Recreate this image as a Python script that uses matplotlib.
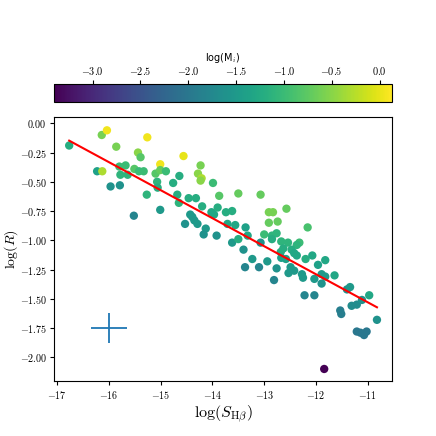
import numpy as np
import matplotlib
matplotlib.use("Agg")
import matplotlib.pyplot as plt
from matplotlib.ticker import FuncFormatter, MultipleLocator

plt.rcParams['mathtext.fontset'] = 'cm'

# data: log(S_Hbeta), log(R), log(M_i)
log_s = [-16.77, -16.14, -16.04, -15.26, -15.86, -15.44, -15.39, -15.01, -14.56, -14.23,
         -16.23, -16.13, -15.80, -15.68, -15.78, -15.64, -15.51, -15.42, -15.33, -15.10,
         -15.01, -14.90, -15.07, -15.06, -14.76, -14.64, -14.28, -14.21, -14.23, -15.97,
         -15.79, -13.99, -15.27, -14.68, -14.65, -14.46, -14.32, -14.20, -13.87, -13.50,
         -13.07, -15.52, -15.01, -14.43, -14.39, -14.35, -14.29, -14.53, -14.02, -13.97,
         -13.90, -13.74, -13.62, -14.13, -14.17, -13.92, -13.71, -13.56, -13.62, -13.36,
         -13.32, -13.40, -13.23, -13.37, -13.10, -12.94, -12.76, -12.81, -12.91, -12.83,
         -12.57, -12.91, -12.74, -12.16, -13.00, -12.85, -12.76, -12.85, -12.67, -12.54,
         -12.32, -12.37, -12.63, -12.68, -12.47, -12.42, -12.37, -12.67, -12.58, -12.20,
         -12.07, -11.96, -11.82, -12.49, -12.42, -12.53, -12.27, -12.25, -12.03, -11.89,
         -11.82, -11.89, -11.64, -12.22, -12.03, -11.40, -11.34, -11.53, -11.51, -11.31,
         -11.21, -11.11, -10.97, -10.82, -11.21, -11.14, -11.07, -11.02, -11.84, -13.50,
         -13.07]
log_r = [-0.19, -0.10, -0.06, -0.12, -0.20, -0.25, -0.29, -0.35, -0.28, -0.36,
         -0.41, -0.41, -0.37, -0.36, -0.44, -0.44, -0.39, -0.41, -0.41, -0.43,
         -0.40, -0.41, -0.50, -0.55, -0.51, -0.45, -0.43, -0.47, -0.49, -0.54,
         -0.53, -0.51, -0.61, -0.61, -0.68, -0.64, -0.64, -0.71, -0.62, -0.60,
         -0.61, -0.79, -0.74, -0.78, -0.80, -0.83, -0.86, -0.86, -0.76, -0.78,
         -0.72, -0.76, -0.75, -0.90, -0.95, -0.96, -0.86, -0.87, -1.02, -0.89,
         -0.96, -1.08, -1.16, -1.23, -1.23, -1.18, -1.24, -1.34, -0.76, -0.76,
         -0.73, -0.85, -0.84, -0.89, -0.95, -0.96, -0.94, -0.99, -1.01, -1.02,
         -1.02, -1.04, -1.07, -1.10, -1.08, -1.11, -1.13, -1.15, -1.16, -1.16,
         -1.13, -1.21, -1.17, -1.23, -1.26, -1.28, -1.29, -1.32, -1.33, -1.29,
         -1.31, -1.37, -1.30, -1.47, -1.47, -1.42, -1.40, -1.60, -1.63, -1.56,
         -1.55, -1.51, -1.47, -1.68, -1.78, -1.79, -1.81, -1.78, -2.10, -0.99,
         -1.02]
log_m = [-1.2, -0.6, 0.05, 0.05, -0.6, -0.5, -0.8, 0.05, 0.0, -0.6,
         -1.4, -0.3, -1.0, -1.0, -1.1, -1.1, -0.8, -1.0, -1.0, -0.8,
         -0.7, -1.0, -1.1, -1.2, -1.2, -1.2, -0.5, -0.3, -0.5, -1.6,
         -1.6, -1.0, -1.1, -1.2, -1.1, -1.2, -1.2, -1.2, -0.8, -0.7,
         -0.7, -1.8, -1.5, -1.5, -1.5, -1.5, -1.5, -1.6, -1.3, -1.3,
         -1.2, -1.2, -1.2, -1.5, -1.6, -1.6, -1.3, -1.3, -1.5, -1.4,
         -1.3, -1.6, -1.5, -1.8, -1.8, -1.5, -1.6, -1.8, -0.6, -0.6,
         -0.7, -0.7, -0.7, -0.9, -1.0, -1.1, -1.1, -1.2, -1.1, -1.1,
         -1.0, -1.1, -1.2, -1.2, -1.2, -1.3, -1.3, -1.4, -1.4, -1.2,
         -1.3, -1.4, -1.3, -1.5, -1.5, -1.5, -1.5, -1.5, -1.5, -1.5,
         -1.5, -1.6, -1.3, -1.8, -1.8, -1.6, -1.5, -1.9, -1.9, -1.7,
         -1.7, -1.6, -1.3, -1.6, -2.0, -2.0, -2.0, -2.0, -3.4, -1.2,
         -1.6]

# linear fit coefficients
fit_slope = -0.2394
fit_intercept = -4.163

# typical error bar
err_x, err_y = -16.0, -1.75
err_dx, err_dy = 0.35, 0.125

cmin, cmax = -3.40, 0.13

fig = plt.figure(figsize=(4.36, 4.36), dpi=100)
ax = fig.add_axes([0.1245, 0.1261, 0.7745, 0.6048])
cax = fig.add_axes([0.1245, 0.7667, 0.7745, 0.0399])

sc = ax.scatter(log_s, log_r, c=log_m, cmap='viridis', vmin=cmin, vmax=cmax,
                s=36, edgecolors='none', zorder=2)

xs = np.sort(np.array(log_s))
ax.plot(xs, fit_slope * xs + fit_intercept, color='red', lw=1.5, zorder=3)

ax.errorbar([err_x], [err_y], xerr=[err_dx], yerr=[err_dy], color='C0', lw=1.3,
            capsize=0, fmt='none')

ax.set_xlim(-17.058, -10.53)
ax.set_ylim(-2.203, 0.051)
ax.xaxis.set_major_locator(MultipleLocator(1))
ax.yaxis.set_major_locator(MultipleLocator(0.25))
ax.xaxis.set_major_formatter(FuncFormatter(lambda v, p: r'$%d$' % round(v)))
ax.yaxis.set_major_formatter(FuncFormatter(lambda v, p: r'$%.2f$' % v))
ax.tick_params(labelsize=7.2, length=3, width=0.8, pad=2.5)
ax.set_xlabel(r'$\log(S_{\rm H\beta})$', fontsize=11.5, labelpad=2)
ax.set_ylabel(r'$\log(R)$', fontsize=10)
ax.yaxis.set_label_coords(-0.103, 0.5)

cb = fig.colorbar(sc, cax=cax, orientation='horizontal')
cax.xaxis.set_ticks_position('top')
cax.xaxis.set_label_position('top')
cb.set_ticks([-3.0, -2.5, -2.0, -1.5, -1.0, -0.5, 0.0])
cax.xaxis.set_major_formatter(FuncFormatter(lambda v, p: r'$%.1f$' % v))
cax.tick_params(labelsize=7.4, length=3, width=0.8, pad=2.5)
cb.set_label(r'log(M$_i$)', fontsize=7, labelpad=3)

fig.savefig('out.png', dpi=100)
